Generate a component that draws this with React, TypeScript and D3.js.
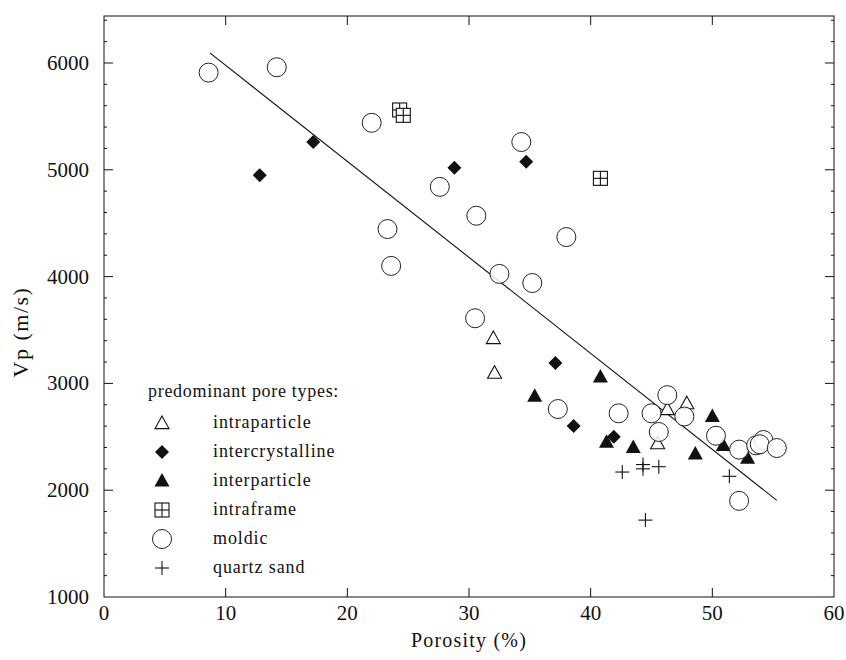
import React from "react";
import * as d3 from "d3";

const intraparticle: [number, number][] = [
  [32.0, 3425], [32.1, 3100], [46.3, 2760], [47.9, 2815], [45.5, 2440],
];
const intercrystalline: [number, number][] = [
  [12.8, 4950], [17.2, 5260], [28.8, 5020], [34.7, 5075], [37.1, 3190],
  [38.6, 2600], [41.9, 2500],
];
const interparticle: [number, number][] = [
  [35.4, 2880], [40.8, 3060], [41.3, 2450], [43.5, 2400], [50.0, 2690],
  [50.9, 2420], [48.6, 2340], [52.9, 2300],
];
const intraframe: [number, number][] = [
  [24.3, 5560], [24.6, 5510], [40.8, 4920],
];
const moldic: [number, number][] = [
  [8.6, 5910], [14.2, 5960], [22.0, 5440], [23.3, 4445], [23.6, 4100],
  [27.6, 4840], [30.6, 4570], [30.5, 3610], [32.5, 4025], [34.3, 5260],
  [35.2, 3940], [38.0, 4370], [37.3, 2760], [42.3, 2720], [46.3, 2890],
  [45.0, 2720], [45.6, 2545], [47.7, 2690], [50.3, 2510], [52.2, 2380],
  [52.2, 1900], [53.6, 2420], [54.2, 2470], [53.9, 2430], [55.3, 2395],
];
const quartzSand: [number, number][] = [
  [42.6, 2170], [44.3, 2240], [44.3, 2200], [45.6, 2220], [51.4, 2130], [44.5, 1720],
];
const fitX = [8.7, 55.3];
const fitY = [6095, 1905];

const xTicks = [0, 10, 20, 30, 40, 50, 60];
const yTicks = [1000, 2000, 3000, 4000, 5000, 6000];
const legendLabels = ["intraparticle", "intercrystalline", "interparticle", "intraframe", "moldic", "quartz sand"];

const L = 104, R = 834, T = 16, B = 597;
const x = d3.scaleLinear().domain([0, 60]).range([L, R]);
const y = d3.scaleLinear().domain([1000, 6440]).range([B, T]);
const font = "Liberation Serif, Times New Roman, DejaVu Serif, serif";
const ink = "#111";

function Marker({ kind, cx, cy }: { kind: string; cx: number; cy: number }) {
  const s = 7;
  switch (kind) {
    case "intraparticle":
      return <path d={`M${cx},${cy - s} L${cx + s},${cy + s * 0.8} L${cx - s},${cy + s * 0.8} Z`} fill="#fff" stroke={ink} strokeWidth={1.1} />;
    case "intercrystalline":
      return <path d={`M${cx},${cy - s} L${cx + s},${cy} L${cx},${cy + s} L${cx - s},${cy} Z`} fill={ink} />;
    case "interparticle":
      return <path d={`M${cx},${cy - s - 1} L${cx + s + 0.5},${cy + s * 0.8} L${cx - s - 0.5},${cy + s * 0.8} Z`} fill={ink} />;
    case "intraframe":
      return (
        <g stroke={ink} strokeWidth={1.1} fill="#fff">
          <rect x={cx - 7} y={cy - 7} width={14} height={14} />
          <line x1={cx} y1={cy - 7} x2={cx} y2={cy + 7} />
          <line x1={cx - 7} y1={cy} x2={cx + 7} y2={cy} />
        </g>
      );
    case "moldic":
      return <circle cx={cx} cy={cy} r={9.5} fill="#fff" fillOpacity={0.85} stroke="#222" strokeWidth={1} />;
    default:
      return (
        <g stroke={ink} strokeWidth={1.1}>
          <line x1={cx - 7} y1={cy} x2={cx + 7} y2={cy} />
          <line x1={cx} y1={cy - 7} x2={cx} y2={cy + 7} />
        </g>
      );
  }
}

export default function App() {
  const series: [string, [number, number][]][] = [
    ["intraparticle", intraparticle],
    ["intercrystalline", intercrystalline],
    ["interparticle", interparticle],
    ["intraframe", intraframe],
    ["quartz sand", quartzSand],
    ["moldic", moldic],
  ];
  const minorY = d3.range(1200, 6440, 200).filter((v) => v % 1000 !== 0);
  const line = d3.line<number>().x((d) => x(d)).y((_, i) => y(fitY[i]));
  return (
    <svg width={846} height={660} style={{ position: "absolute", left: 0, top: 0, background: "#fff", fontFamily: font }}>
      <rect x={0} y={0} width={846} height={660} fill="#fff" />
      <rect x={L} y={T} width={R - L} height={B - T} fill="none" stroke={ink} strokeWidth={1} />
      {xTicks.slice(1, -1).map((t) => (
        <g key={"xt" + t} stroke={ink}>
          <line x1={x(t)} x2={x(t)} y1={B} y2={B - 9} />
          <line x1={x(t)} x2={x(t)} y1={T} y2={T + 9} />
        </g>
      ))}
      {yTicks.slice(1).map((t) => (
        <g key={"yt" + t} stroke={ink}>
          <line x1={L} x2={L + 9} y1={y(t)} y2={y(t)} />
          <line x1={R} x2={R - 9} y1={y(t)} y2={y(t)} />
        </g>
      ))}
      {minorY.map((t) => (
        <g key={"ym" + t} stroke={ink}>
          <line x1={L} x2={L + 3} y1={y(t)} y2={y(t)} />
          <line x1={R} x2={R - 3} y1={y(t)} y2={y(t)} />
        </g>
      ))}
      {xTicks.map((t) => (
        <text key={"xl" + t} x={x(t)} y={B + 23} textAnchor="middle" fontSize={21} fill={ink}>{t}</text>
      ))}
      {yTicks.map((t) => (
        <text key={"yl" + t} x={L - 15} y={y(t) + 7} textAnchor="end" fontSize={21} fill={ink}>{t}</text>
      ))}
      <text x={x(30)} y={647} textAnchor="middle" fontSize={20} letterSpacing={1.2} fill={ink}>Porosity (%)</text>
      <text transform={`translate(28,${332}) rotate(-90)`} textAnchor="middle" fontSize={22} letterSpacing={1.5} fill={ink}>Vp (m/s)</text>
      <path d={line(fitX) || ""} fill="none" stroke={ink} strokeWidth={1.1} />
      {series.map(([k, pts]) =>
        pts.map((p, i) => <Marker key={k + i} kind={k} cx={x(p[0])} cy={y(p[1])} />)
      )}
      <text x={148} y={397} fontSize={18} letterSpacing={0.7} fill={ink}>predominant pore types:</text>
      {legendLabels.map((lab, i) => (
        <g key={lab}>
          <Marker kind={lab} cx={162} cy={423 + i * 29} />
          <text x={213} y={428 + i * 29} fontSize={18} letterSpacing={0.9} fill={ink}>{lab}</text>
        </g>
      ))}
    </svg>
  );
}
